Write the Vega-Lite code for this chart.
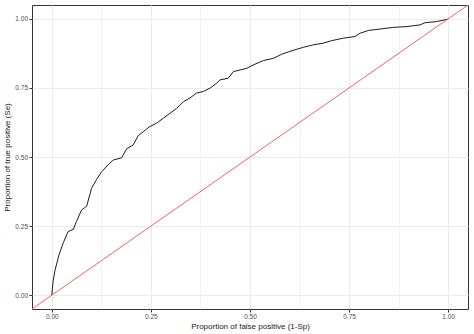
{
  "$schema": "https://vega.github.io/schema/vega-lite/v6.json",
  "width": 436,
  "height": 304,
  "autosize": {"type": "none"},
  "padding": {"left": 32, "top": 5, "right": 6, "bottom": 25},
  "background": "white",
  "config": {
    "view": {"stroke": "#333333", "strokeWidth": 1},
    "axis": {
      "labelFont": "Liberation Sans",
      "titleFont": "Liberation Sans",
      "labelFontSize": 6.5,
      "labelColor": "#4d4d4d",
      "titleFontSize": 8,
      "titleFontWeight": "normal",
      "titleColor": "#1a1a1a",
      "domain": false,
      "tickColor": "#333333",
      "tickSize": 3,
      "labelPadding": 1.5,
      "gridColor": "#ebebeb"
    }
  },
  "datasets": {
    "roc": [
      {"fpr": 0, "tpr": 0},
      {"fpr": 0.003, "tpr": 0.048},
      {"fpr": 0.008, "tpr": 0.09},
      {"fpr": 0.018, "tpr": 0.145},
      {"fpr": 0.029, "tpr": 0.19},
      {"fpr": 0.041, "tpr": 0.23},
      {"fpr": 0.054, "tpr": 0.238},
      {"fpr": 0.062, "tpr": 0.266},
      {"fpr": 0.075, "tpr": 0.308},
      {"fpr": 0.088, "tpr": 0.322},
      {"fpr": 0.1, "tpr": 0.386},
      {"fpr": 0.113, "tpr": 0.419},
      {"fpr": 0.126, "tpr": 0.447},
      {"fpr": 0.142, "tpr": 0.472},
      {"fpr": 0.155, "tpr": 0.489},
      {"fpr": 0.176, "tpr": 0.497},
      {"fpr": 0.189, "tpr": 0.53},
      {"fpr": 0.205, "tpr": 0.543},
      {"fpr": 0.218, "tpr": 0.577},
      {"fpr": 0.231, "tpr": 0.592},
      {"fpr": 0.247, "tpr": 0.61},
      {"fpr": 0.264, "tpr": 0.622},
      {"fpr": 0.281, "tpr": 0.64},
      {"fpr": 0.298, "tpr": 0.658},
      {"fpr": 0.315, "tpr": 0.676},
      {"fpr": 0.332, "tpr": 0.7},
      {"fpr": 0.348, "tpr": 0.713},
      {"fpr": 0.365, "tpr": 0.731},
      {"fpr": 0.382, "tpr": 0.737},
      {"fpr": 0.399, "tpr": 0.749},
      {"fpr": 0.416, "tpr": 0.767},
      {"fpr": 0.424, "tpr": 0.779},
      {"fpr": 0.445, "tpr": 0.785},
      {"fpr": 0.458, "tpr": 0.809},
      {"fpr": 0.475, "tpr": 0.815},
      {"fpr": 0.492, "tpr": 0.821},
      {"fpr": 0.508, "tpr": 0.833},
      {"fpr": 0.534, "tpr": 0.849},
      {"fpr": 0.559, "tpr": 0.857},
      {"fpr": 0.58, "tpr": 0.872},
      {"fpr": 0.609, "tpr": 0.886},
      {"fpr": 0.635, "tpr": 0.897},
      {"fpr": 0.66, "tpr": 0.906},
      {"fpr": 0.685, "tpr": 0.912},
      {"fpr": 0.706, "tpr": 0.921},
      {"fpr": 0.736, "tpr": 0.93},
      {"fpr": 0.765, "tpr": 0.936},
      {"fpr": 0.778, "tpr": 0.948},
      {"fpr": 0.799, "tpr": 0.958},
      {"fpr": 0.828, "tpr": 0.963},
      {"fpr": 0.862, "tpr": 0.969},
      {"fpr": 0.896, "tpr": 0.972},
      {"fpr": 0.929, "tpr": 0.978},
      {"fpr": 0.942, "tpr": 0.986},
      {"fpr": 0.971, "tpr": 0.99},
      {"fpr": 0.997, "tpr": 0.998},
      {"fpr": 1, "tpr": 1}
    ],
    "diag": [
      {"fpr": -0.05, "tpr": -0.05},
      {"fpr": 1.05, "tpr": 1.05}
    ]
  },
  "layer": [
    {
      "data": {"name": "roc"},
      "mark": {"type": "line", "color": "#1c1c1c", "strokeWidth": 1, "clip": true},
      "encoding": {
        "x": {
          "field": "fpr", "type": "quantitative",
          "scale": {"domain": [-0.05, 1.05], "nice": false, "zero": false},
          "axis": {
            "title": "Proportion of false positive (1-Sp)",
            "values": [0, 0.125, 0.25, 0.375, 0.5, 0.625, 0.75, 0.875, 1],
            "format": ".2f",
            "labelExpr": "datum.value % 0.25 == 0 ? datum.label : ''",
            "tickOpacity": {"condition": {"test": "datum.value % 0.25 != 0", "value": 0}, "value": 1},
            "gridWidth": {"condition": {"test": "datum.value % 0.25 != 0", "value": 0.6}, "value": 1},
            "titlePadding": 2
          }
        },
        "y": {
          "field": "tpr", "type": "quantitative",
          "scale": {"domain": [-0.05, 1.05], "nice": false, "zero": false},
          "axis": {
            "title": "Proportion of true positive (Se)",
            "values": [0, 0.125, 0.25, 0.375, 0.5, 0.625, 0.75, 0.875, 1],
            "format": ".2f",
            "labelExpr": "datum.value % 0.25 == 0 ? datum.label : ''",
            "tickOpacity": {"condition": {"test": "datum.value % 0.25 != 0", "value": 0}, "value": 1},
            "gridWidth": {"condition": {"test": "datum.value % 0.25 != 0", "value": 0.6}, "value": 1},
            "titlePadding": 3
          }
        }
      }
    },
    {
      "data": {"name": "diag"},
      "mark": {"type": "line", "color": "#ef6464", "strokeWidth": 1, "clip": true},
      "encoding": {
        "x": {"field": "fpr", "type": "quantitative"},
        "y": {"field": "tpr", "type": "quantitative"}
      }
    }
  ]
}
